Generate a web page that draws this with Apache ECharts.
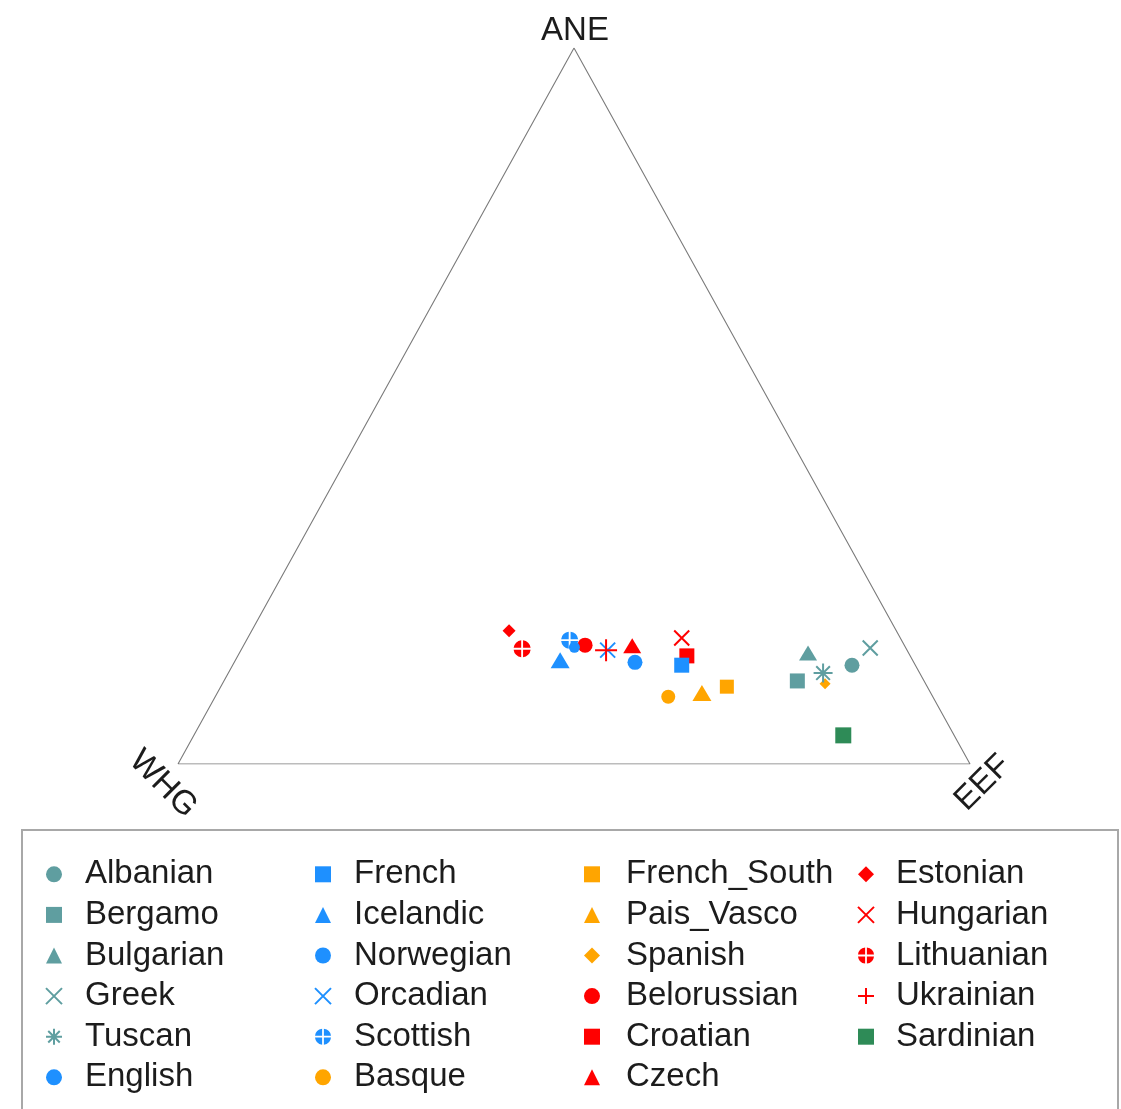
<!DOCTYPE html>
<html>
<head>
<meta charset="utf-8">
<title>WHG / EEF / ANE ternary plot</title>
<script src="https://cdn.jsdelivr.net/npm/echarts@6/dist/echarts.min.js"></script>
<style>
  html, body { margin: 0; padding: 0; background: #ffffff; }
  #chart { width: 1121px; height: 1109px; }
</style>
</head>
<body>
<div id="chart"></div>
<script>
// Ancestry proportions per population: WHG, EEF and ANE shares (each row sums to 1)
const populations = [
  'Albanian', 'Bergamo', 'Bulgarian', 'Greek', 'Tuscan', 'English',
  'French', 'Icelandic', 'Norwegian', 'Orcadian', 'Scottish', 'Basque',
  'French_South', 'Pais_Vasco', 'Spanish', 'Belorussian', 'Croatian', 'Czech',
  'Estonian', 'Hungarian', 'Lithuanian', 'Ukrainian', 'Sardinian'
];
const whgShare = [
  0.080, 0.160, 0.127, 0.045, 0.122, 0.352,
  0.295, 0.445, 0.418, 0.378, 0.419, 0.334,
  0.253, 0.289, 0.127, 0.403, 0.282, 0.344,
  0.489, 0.276, 0.485, 0.380, 0.140
];
const eefShare = [
  0.782, 0.724, 0.718, 0.793, 0.751, 0.506,
  0.567, 0.410, 0.419, 0.463, 0.408, 0.572,
  0.639, 0.612, 0.761, 0.431, 0.567, 0.491,
  0.325, 0.548, 0.354, 0.461, 0.820
];
const aneShare = [
  0.138, 0.116, 0.155, 0.162, 0.127, 0.142,
  0.138, 0.145, 0.163, 0.159, 0.173, 0.094,
  0.108, 0.099, 0.112, 0.166, 0.151, 0.165,
  0.186, 0.176, 0.161, 0.159, 0.040
];
const vertexNames = ['WHG', 'EEF', 'ANE'];

// Legend columns, listed top to bottom
const legendColumns = [
  ['Albanian', 'Bergamo', 'Bulgarian', 'Greek', 'Tuscan', 'English'],
  ['French', 'Icelandic', 'Norwegian', 'Orcadian', 'Scottish', 'Basque'],
  ['French_South', 'Pais_Vasco', 'Spanish', 'Belorussian', 'Croatian', 'Czech'],
  ['Estonian', 'Hungarian', 'Lithuanian', 'Ukrainian', 'Sardinian']
];

// ---- marker styling ----
const TEAL = '#5f9ea0', BLUE = '#1e90ff', ORANGE = '#ffa500', RED = '#ff0000', GREEN = '#2e8b57';
const SYM_X = 'path://M-1,-1L1,1M1,-1L-1,1';
const SYM_PLUS = 'path://M-1,0L1,0M0,-1L0,1';
const SYM_STAR = 'path://M-1,0L1,0M0,-1L0,1M-0.72,-0.72L0.72,0.72M0.72,-0.72L-0.72,0.72';
const SYM_CIRCLE_PLUS = 'path://M1.1,-1.1L1.1,-9.94A10,10 0 0 1 9.94,-1.1Z' +
  'M-1.1,-1.1L-9.94,-1.1A10,10 0 0 1 -1.1,-9.94Z' +
  'M-1.1,1.1L-1.1,9.94A10,10 0 0 1 -9.94,1.1Z' +
  'M1.1,1.1L9.94,1.1A10,10 0 0 1 1.1,9.94Z';

const markerStyle = {
  Albanian:     { color: TEAL,   symbol: 'circle',   size: 15, z: 2 },
  Bergamo:      { color: TEAL,   symbol: 'rect',     size: 15, z: 2 },
  Bulgarian:    { color: TEAL,   symbol: 'triangle', size: [18, 15], z: 2 },
  Greek:        { color: TEAL,   symbol: SYM_X,      size: 15, z: 2, stroke: true },
  Tuscan:       { color: TEAL,   symbol: SYM_STAR,   size: 19, z: 3, stroke: true },
  English:      { color: BLUE,   symbol: 'circle',   size: 15, z: 4 },
  French:       { color: BLUE,   symbol: 'rect',     size: 15, z: 4 },
  Icelandic:    { color: BLUE,   symbol: 'triangle', size: [19, 16], z: 4 },
  Norwegian:    { color: BLUE,   symbol: 'circle',   size: 11, z: 4 },
  Orcadian:     { color: BLUE,   symbol: SYM_X,      size: 15, z: 4, stroke: true },
  Scottish:     { color: BLUE,   symbol: SYM_CIRCLE_PLUS, size: 17, z: 5 },
  Basque:       { color: ORANGE, symbol: 'circle',   size: 14, z: 2 },
  French_South: { color: ORANGE, symbol: 'rect',     size: 14, z: 2 },
  Pais_Vasco:   { color: ORANGE, symbol: 'triangle', size: [19, 16], z: 2 },
  Spanish:      { color: ORANGE, symbol: 'diamond',  size: 11, z: 2 },
  Belorussian:  { color: RED,    symbol: 'circle',   size: 15, z: 3 },
  Croatian:     { color: RED,    symbol: 'rect',     size: 15, z: 3 },
  Czech:        { color: RED,    symbol: 'triangle', size: [18, 15], z: 3 },
  Estonian:     { color: RED,    symbol: 'diamond',  size: 13, z: 3 },
  Hungarian:    { color: RED,    symbol: SYM_X,      size: 15, z: 3, stroke: true },
  Lithuanian:   { color: RED,    symbol: SYM_CIRCLE_PLUS, size: 17, z: 3 },
  Ukrainian:    { color: RED,    symbol: SYM_PLUS,   size: 22, z: 6, stroke: true },
  Sardinian:    { color: GREEN,  symbol: 'rect',     size: 16, z: 2 }
};

// Barycentric (WHG, EEF, ANE) -> plane: WHG at (0,0), EEF at (1,0), ANE at (0.5,1)
function toPlane(whg, eef, ane) {
  return [eef + ane / 2, ane];
}
const vertexPlane = [toPlane(1, 0, 0), toPlane(0, 1, 0), toPlane(0, 0, 1)];

const FONT = '"Liberation Sans", Arial, Helvetica, sans-serif';

const pointSeries = populations.map(function (name, i) {
  const st = markerStyle[name];
  const itemStyle = st.stroke
    ? { color: st.color, borderColor: st.color, borderWidth: 2, opacity: 1 }
    : { color: st.color, borderWidth: 0, opacity: 1 };
  return {
    name: name,
    type: 'scatter',
    z: st.z,
    symbol: st.symbol,
    symbolSize: st.size,
    itemStyle: itemStyle,
    emphasis: { disabled: true },
    data: [toPlane(whgShare[i], eefShare[i], aneShare[i])]
  };
});

const outlineSeries = {
  name: 'outline',
  type: 'line',
  z: 1,
  silent: true,
  symbol: 'none',
  lineStyle: { color: '#7a7a7a', width: 1.1 },
  data: vertexPlane.concat([vertexPlane[0]])
};

const legendLeft = [45, 314, 584, 857];
const legendTextPad = [18, 18, 21, 17];

const chart = echarts.init(document.getElementById('chart'), null, { renderer: 'canvas' });

chart.setOption({
  backgroundColor: '#ffffff',
  animation: false,
  grid: { left: 178, right: 151, top: 48, bottom: 345 },
  xAxis: { type: 'value', min: 0, max: 1, show: false },
  yAxis: { type: 'value', min: 0, max: 1, show: false },
  legend: legendColumns.map(function (names, c) {
    return {
      data: names,
      orient: 'vertical',
      left: legendLeft[c],
      top: 854,
      padding: 0,
      itemGap: 0,
      itemWidth: 16,
      itemHeight: 16,
      selectedMode: false,
      itemStyle: { opacity: 1 },
      textStyle: {
        fontFamily: FONT,
        fontSize: 33,
        color: '#1c1c1c',
        lineHeight: 40.6,
        padding: [0, 0, 0, legendTextPad[c]]
      }
    };
  }),
  series: [outlineSeries].concat(pointSeries)
});

// Legend frame and the corner labels of the triangle
const labelOffsets = { WHG: [-15, 20, -Math.PI / 4], EEF: [13, 19, Math.PI / 4], ANE: [1, -17, 0] };
const cornerLabels = vertexNames.map(function (name, i) {
  const p = chart.convertToPixel({ gridIndex: 0 }, vertexPlane[i]);
  const o = labelOffsets[name];
  return {
    type: 'text',
    x: p[0] + o[0],
    y: p[1] + o[1],
    rotation: o[2],
    style: {
      text: name,
      font: '33px ' + FONT,
      fill: '#1c1c1c',
      align: 'center',
      verticalAlign: 'middle'
    }
  };
});

chart.setOption({
  graphic: [
    {
      type: 'rect',
      z: 0,
      shape: { x: 22, y: 830, width: 1096, height: 320 },
      style: { fill: 'none', stroke: '#a8a8a8', lineWidth: 2 }
    }
  ].concat(cornerLabels)
});
</script>
</body>
</html>
